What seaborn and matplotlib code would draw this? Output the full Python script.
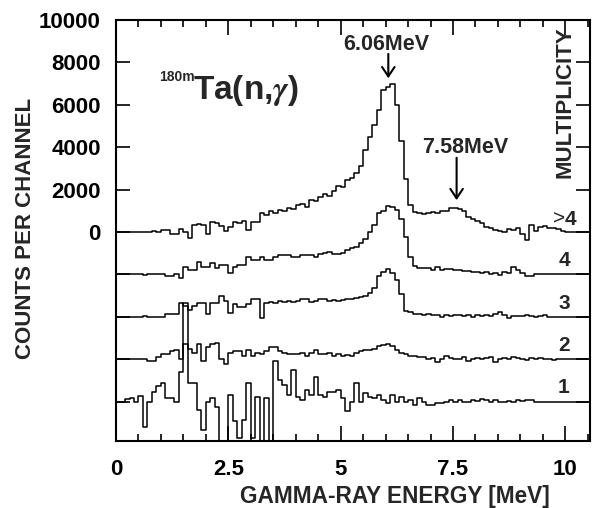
import numpy as np
import pandas as pd
import matplotlib
matplotlib.use('Agg')
import matplotlib.pyplot as plt
import matplotlib.transforms as mtransforms
from matplotlib.ticker import MultipleLocator, FuncFormatter
import seaborn as sns

# gamma-ray spectra per multiplicity, counts per 0.1 MeV channel
bin_width = 0.1
mult_gt4 = [0, 10, -10, 0, 10, 0, 20, 0, 30, 20,
            100, 90, -100, -80, 150, 0, -280, 350, 380, 320,
            -100, 450, 430, 300, 50, 250, 450, 420, 500, 100,
            450, 480, 900, 800, 1000, 900, 1050, 1000, 1150, 1100,
            1250, 1300, 1200, 1500, 1450, 1650, 1800, 1700, 1950, 2150,
            2100, 2450, 2550, 2800, 3100, 3870, 4500, 5050, 5760, 6700,
            6850, 6980, 6000, 4300, 2500, 1250, 950, 880, 850, 880,
            950, 880, 1000, 1000, 1120, 1150, 1100, 1000, 700, 600,
            500, 400, 250, 170, 100, 50, 0, 150, 80, 170,
            -100, -380, 330, 50, 250, 280, 200, 170, 120, 30,
            0, 0, 0, 0, 0]
mult_4 = [0, 0, 10, 0, 20, 0, -20, 30, 0, 20,
          0, -100, -100, 0, -150, 330, 200, 200, 580, 330,
          330, 520, 280, 440, 440, 50, 330, 440, 440, 800,
          670, 670, 800, 670, 670, 830, 900, 900, 900, 830,
          830, 900, 900, 900, 830, 950, 1000, 1060, 980, 980,
          1000, 1140, 1220, 1300, 1460, 1690, 2000, 2320, 2870, 3000,
          3210, 3200, 3020, 2630, 1770, 800, 400, 300, 280, 280,
          220, 330, 220, 250, 230, 200, 220, 180, 150, 120,
          100, 50, 120, 0, 80, -50, 100, 50, 330, 200,
          80, -100, -80, 0, 30, 10, 20, 0, 10, 0,
          0, 10, 0, 0, 0]
mult_3 = [0, 0, 0, 0, 0, 0, 40, 0, 0, -30,
          -20, 120, 120, 120, 630, 500, 340, 500, 660, 660,
          120, 660, 660, 970, 730, 180, 600, 440, 440, 600,
          830, 830, -60, 660, 700, 650, 720, 680, 750, 700,
          720, 830, 830, 700, 720, 830, 830, 750, 780, 750,
          800, 830, 830, 900, 950, 1000, 1130, 1370, 1930, 2100,
          2240, 2080, 1720, 1060, 280, 200, 150, 120, 100, 120,
          60, 100, 0, 80, 50, 100, 60, 40, 80, -20,
          80, 30, 60, 20, 120, 200, 60, -40, 50, 40,
          20, 60, 30, 0, 40, 70, 0, 10, 0, 0,
          0, 0, 0, 0, 0]
mult_2 = [0, 0, 0, 0, 0, 0, 0, -80, -80, 80,
          240, 240, 390, 440, 0, 690, 500, 300, 690, -80,
          550, 690, 770, 0, -240, 300, 390, 390, 150, 440,
          150, 300, 240, 390, 550, 550, 390, 300, 240, 240,
          240, 300, 150, 300, 440, 240, 240, 300, 150, 240,
          150, 200, 150, 300, 390, 440, 440, 500, 600, 650,
          730, 600, 440, 300, 240, 150, 150, 80, 80, 0,
          50, -150, 0, 150, 50, 0, 0, 80, -80, 0,
          50, 0, 40, 80, -150, 0, 50, 0, 80, 50,
          0, -30, 40, 0, 30, 0, 0, -20, 0, 0,
          0, 0, 0, 0, 0]
mult_1 = [0, 0, 100, 150, 0, 240, -1180, 0, 470, 750,
          860, 150, 150, 0, 1410, 4640, 860, 860, -390, -1340,
          0, 150, -240, -2500, -2500, 310, -940, -1730, -860, 860,
          -1730, 230, -1890, 150, -2500, 1890, 1020, 780, 310, 1490,
          230, 80, 550, 310, 1180, 310, 230, 470, 470, 550,
          150, -470, 0, 860, 0, 390, 230, 150, 310, 80,
          -80, 310, 0, 230, 0, 80, -150, 150, 0, -150,
          -150, -80, -80, 0, 50, 0, 80, -30, 0, 50,
          30, 120, 80, 0, 50, 0, -30, 30, 0, 60,
          40, 50, 80, 0, 0, -20, 0, 0, 0, 0,
          0, 0, 0, 0, 0]

mult_labels = ['>4', '4', '3', '2', '1']
mult_offsets = [0, -2000, -4000, -6000, -8000]
spectra = [mult_gt4, mult_4, mult_3, mult_2, mult_1]

peak_energies = [6.06, 7.58]
peak_labels = ['6.06MeV', '7.58MeV']

# long table for seaborn, one step line per multiplicity
rows = []
for lab, off, vals in zip(mult_labels, mult_offsets, spectra):
    edges = np.arange(len(vals) + 1) * bin_width
    ys = np.append(vals, vals[-1]) + off
    rows.append(pd.DataFrame({'energy': edges, 'counts': ys, 'multiplicity': lab}))
df = pd.concat(rows, ignore_index=True)

sns.set_style('ticks')
plt.rcParams['font.family'] = ['Liberation Sans', 'DejaVu Sans']
plt.rcParams['font.weight'] = 'bold'
plt.rcParams['mathtext.fontset'] = 'stix'
plt.rcParams.update({
    'xtick.direction': 'in', 'ytick.direction': 'in',
    'xtick.major.size': 0, 'xtick.minor.size': 0,
    'ytick.major.size': 0, 'ytick.minor.size': 0,
    'xtick.color': 'black', 'ytick.color': 'black',
    'xtick.major.pad': 13, 'ytick.major.pad': 11,
    'xtick.labelsize': 16, 'ytick.labelsize': 16,
})

fig = plt.figure(figsize=(5.92, 5.08), dpi=100)
ax = fig.add_axes([0.196, 0.132, 0.8007, 0.8287])

sns.lineplot(data=df, x='energy', y='counts', units='multiplicity', estimator=None,
             sort=False, color='black', lw=1.1, drawstyle='steps-post', ax=ax, legend=False)

ax.set_xlim(0, 10.55)
ax.set_ylim(-9860, 10000)
ax.xaxis.set_major_locator(MultipleLocator(2.5))
ax.xaxis.set_minor_locator(MultipleLocator(0.5))
ax.yaxis.set_major_locator(MultipleLocator(2000))
ax.xaxis.set_major_formatter(FuncFormatter(lambda v, p: f'{v:g}'))
ax.yaxis.set_major_formatter(FuncFormatter(lambda v, p: f'{v:.0f}' if v >= 0 else ''))
for sp in ax.spines.values():
    sp.set_linewidth(1.5)
    sp.set_color('black')

# inward tick marks on all four sides, placed from the axis locators
xt = mtransforms.blended_transform_factory(ax.transData, ax.transAxes)
yt = mtransforms.blended_transform_factory(ax.transAxes, ax.transData)
px_per_pt = fig.dpi / 72
xlo, xhi = ax.get_xlim()
ylo, yhi = ax.get_ylim()
tick_kw = dict(color='black', lw=1.2, solid_capstyle='butt', zorder=3)
for locs, size in ((ax.xaxis.get_majorticklocs(), 11), (ax.xaxis.get_minorticklocs(), 5)):
    frac = size * px_per_pt / ax.bbox.height
    for v in locs:
        if xlo < v < xhi:
            ax.plot([v, v], [0, frac], transform=xt, **tick_kw)
            ax.plot([v, v], [1, 1 - frac], transform=xt, **tick_kw)
frac = 10 * px_per_pt / ax.bbox.width
for v in ax.yaxis.get_majorticklocs():
    if ylo < v < yhi:
        ax.plot([0, frac], [v, v], transform=yt, **tick_kw)
        ax.plot([1, 1 - frac], [v, v], transform=yt, **tick_kw)

ax.set_xlabel('GAMMA-RAY ENERGY [MeV]', fontsize=16.3, fontweight='bold')
ax.set_ylabel('COUNTS PER CHANNEL', fontsize=16, fontweight='bold')
ax.xaxis.set_label_coords(0.589, -0.105)
ax.yaxis.set_label_coords(-0.168, 0.504)

# reaction label
ax.text(0.97, 7100, '180m', fontsize=10, fontweight='bold', ha='left', va='baseline')
ax.text(1.71, 6250, r'Ta(n,$\gamma$)', fontsize=24, fontweight='bold', ha='left', va='baseline')

# peak markers
ax.text(peak_energies[0] - 0.04, 8820, peak_labels[0], fontsize=15.5, fontweight='bold',
        ha='center', va='center')
ax.annotate('', xy=(peak_energies[0], 7250), xytext=(peak_energies[0], 8400),
            arrowprops=dict(arrowstyle='->,head_length=0.45,head_width=0.3', lw=1.5,
                            color='black', mutation_scale=15, shrinkA=0, shrinkB=0))
ax.text(peak_energies[1] + 0.19, 3990, peak_labels[1], fontsize=15.5, fontweight='bold',
        ha='center', va='center')
ax.annotate('', xy=(peak_energies[1], 1500), xytext=(peak_energies[1], 3500),
            arrowprops=dict(arrowstyle='->,head_length=0.45,head_width=0.3', lw=1.5,
                            color='black', mutation_scale=15, shrinkA=0, shrinkB=0))

ax.text(10.0, 6130, 'MULTIPLICITY', rotation=90, fontsize=16, fontweight='bold',
        ha='center', va='center')

# multiplicity tags
for lab, off in zip(mult_labels, mult_offsets):
    if lab.startswith('>'):
        ax.text(9.99, off + 600, '>', fontsize=15, fontweight='normal', ha='right', va='center')
        ax.text(9.99, off + 600, lab[1:], fontsize=15, fontweight='bold', ha='left', va='center')
    else:
        ax.text(9.97, off + 640, lab, fontsize=15, fontweight='bold', ha='center', va='center')

fig.savefig('out.png', dpi=100)
